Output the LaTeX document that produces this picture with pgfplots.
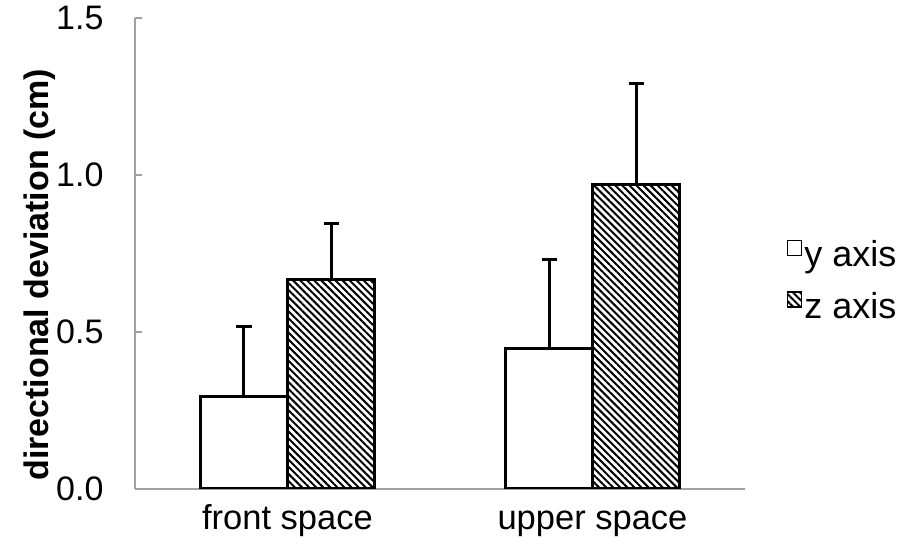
\documentclass[border=0pt]{standalone}
\usepackage{fontspec}
\setmainfont{Liberation Sans}
\usepackage{pgfplots}
\pgfplotsset{compat=1.18}
\usetikzlibrary{patterns.meta}
\definecolor{axgray}{HTML}{A0A0A0}
\begin{document}
\begin{tikzpicture}
\useasboundingbox (-135pt,-57pt) rectangle (765pt,489pt);
\begin{axis}[
  at={(0,0)}, anchor=south west,
  scale only axis,
  width=610pt, height=471pt,
  xmin=-0.5, xmax=1.5,
  ymin=0, ymax=1.5,
  axis x line=bottom, axis y line=left,
  axis line style={axgray, line width=2pt, -},
  xtick={0,1}, xticklabels={front space, upper space},
  x tick style={draw=none},
  ytick={0,0.5,1.0,1.5},
  y tick style={axgray, line width=2pt},
  tick align=inside, major tick length=7pt,
  /pgf/number format/.cd, fixed, fixed zerofill, precision=1, assume math mode=true,
  /pgfplots/.cd,
  yticklabel style={font=\fontsize{34}{38}\selectfont, xshift=-28pt},
  xticklabel style={font=\fontsize{34.5}{38}\selectfont, yshift=-22pt, text height=0.75em, text depth=0.22em},
  ylabel={\textbf{directional deviation (cm)}},
  ylabel style={font=\fontsize{34}{38}\selectfont, at={(axis description cs:-0.157,0.455)}, anchor=center, rotate=0},
  ybar, bar width=87pt,
  legend style={draw=none, fill=none, at={(axis description cs:1.068,0.443)}, anchor=west,
    font=\fontsize{36}{40}\selectfont, row sep=20pt, inner sep=0pt},
  legend cell align=left,
  legend image code/.code={\draw[#1, line width=1.8pt] (0pt,-1pt) rectangle (14pt,14pt);},
]
\addplot[draw=black, fill=white, line width=3pt, bar shift=-43.5pt,
  error bars/.cd, y dir=plus, y explicit,
  error bar style={black, line width=3pt}, error mark options={black, line width=3pt, mark size=7.5pt, rotate=90}]
  coordinates {(0,0.295) +- (0,0.221) (1,0.449) +- (0,0.281)};
\addlegendentry{y axis}
\addplot[draw=black, line width=3pt, bar shift=43.5pt,
  pattern={Lines[angle=-45, distance=5pt, line width=2pt]}, pattern color=black,
  error bars/.cd, y dir=plus, y explicit,
  error bar style={black, line width=3pt}, error mark options={black, line width=3pt, mark size=7.5pt, rotate=90}]
  coordinates {(0,0.667) +- (0,0.179) (1,0.971) +- (0,0.319)};
\addlegendentry{z axis}
\end{axis}
\end{tikzpicture}
\end{document}
